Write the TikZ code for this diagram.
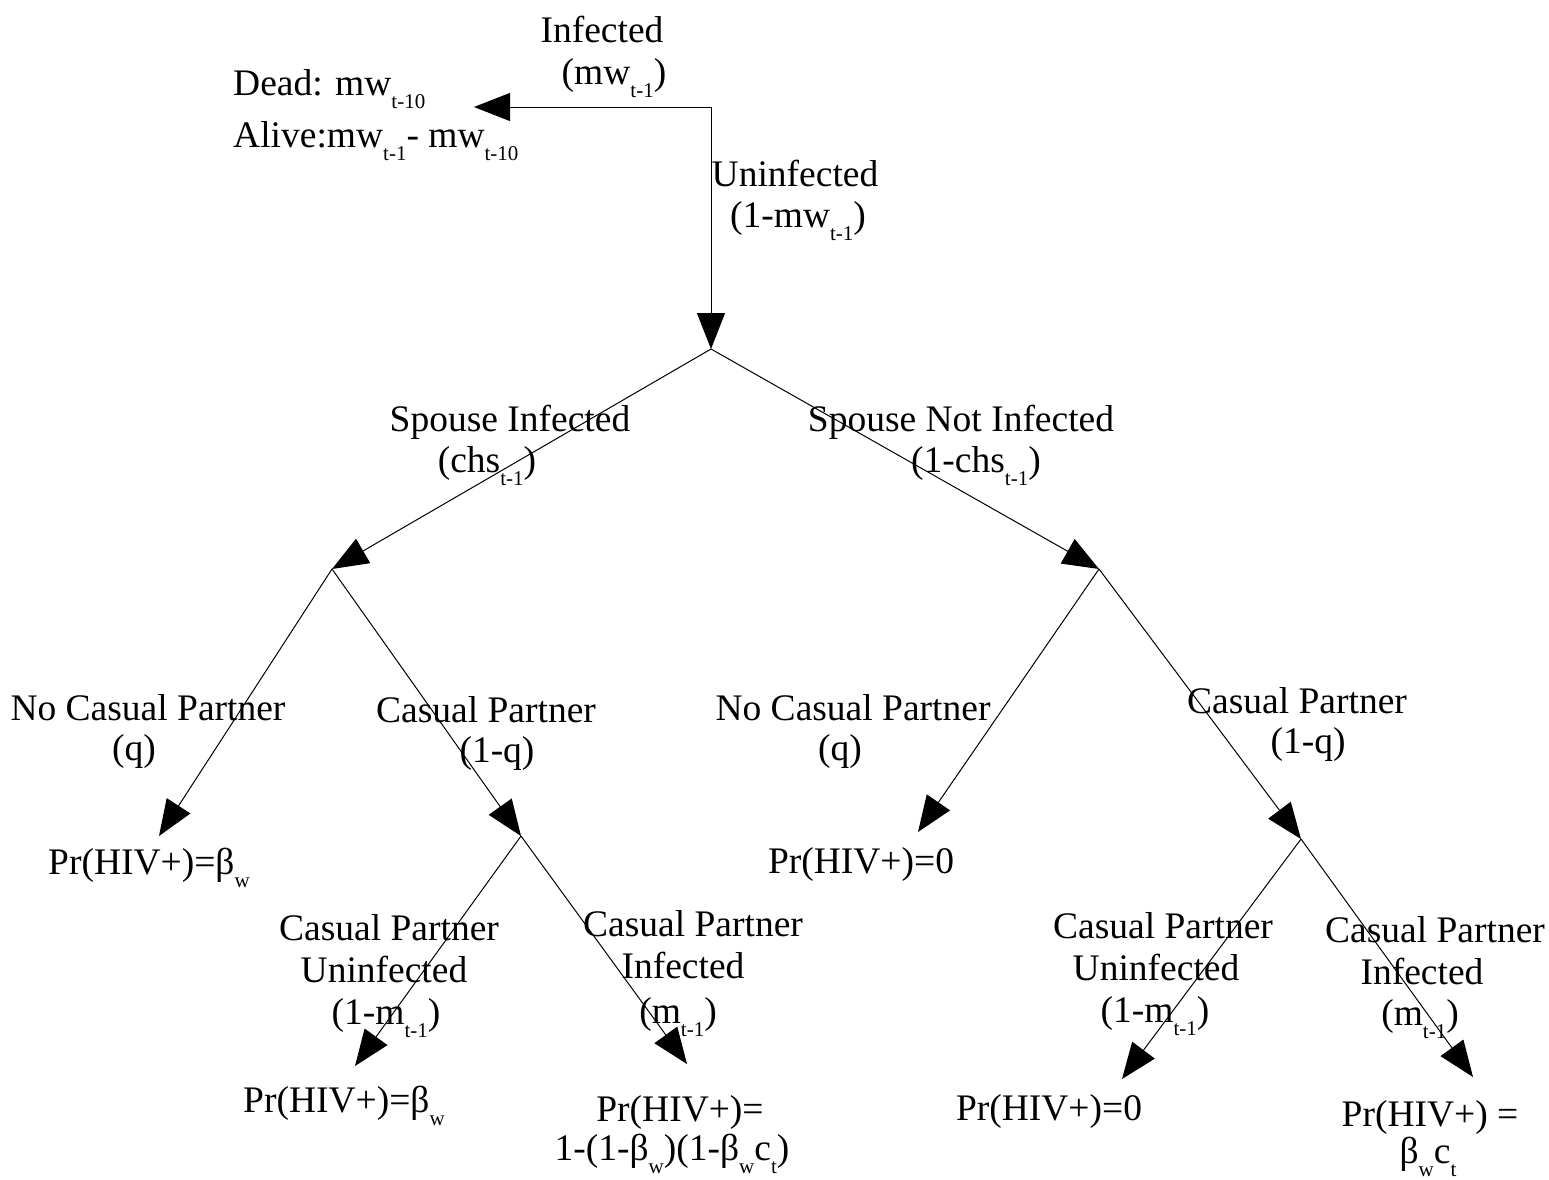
\documentclass[tikz,border=0pt]{standalone}
\usepackage{fontspec}
\setmainfont{Liberation Serif}
\usetikzlibrary{arrows.meta}
\newcommand\lo[1]{\raisebox{-13pt}{\fontsize{21}{21}\selectfont #1}}
\begin{document}
\begin{tikzpicture}[x=1pt,y=-1pt,
  lbl/.style={anchor=base, inner sep=0pt, font=\fontsize{37.5}{45}\selectfont},
  lblw/.style={lbl, anchor=base west},
  edge/.style={line width=1pt, -{Triangle[length=36pt,width=28pt]}}]
\useasboundingbox (0,0) rectangle (1549,1179);
% junctions
\coordinate (top) at (711,107);
\coordinate (j0) at (711,349);
\coordinate (jL) at (332,569);
\coordinate (jR) at (1099,569);
\coordinate (jLC) at (521,836);
\coordinate (jRC) at (1301,839);
\coordinate (eDead) at (474,107);
\coordinate (eLq) at (159,836);
\coordinate (eRq) at (918,832);
\coordinate (eLCu) at (355,1066);
\coordinate (eLCi) at (687,1064);
\coordinate (eRCu) at (1122,1079);
\coordinate (eRCi) at (1473,1077);
% connectors
\draw[edge] (top) -- (eDead);
\draw[edge] (top) -- (j0);
\draw[edge] (j0) -- (jL);
\draw[edge] (j0) -- (jR);
\draw[edge] (jL) -- (eLq);
\draw[edge] (jL) -- (jLC);
\draw[edge] (jR) -- (eRq);
\draw[edge] (jR) -- (jRC);
\draw[edge] (jLC) -- (eLCu);
\draw[edge] (jLC) -- (eLCi);
\draw[edge] (jRC) -- (eRCu);
\draw[edge] (jRC) -- (eRCi);
% top labels
\node[lbl] (inf1) at (602,42) {Infected};
\node[lbl] (inf2) at (614,84) {(mw\lo{t-1})};
\node[lblw] (dead) at (233,95) {Dead: mw\lo{t-10}};
\node[lblw] (alive) at (233,147) {Alive:mw\lo{t-1}- mw\lo{t-10}};
\node[lbl] (uninf1) at (795,186) {Uninfected};
\node[lbl] (uninf2) at (798,227) {(1-mw\lo{t-1})};
% spouse labels
\node[lbl] (si1) at (510,431) {Spouse Infected};
\node[lbl] (si2) at (487,472) {(chs\lo{t-1})};
\node[lbl] (sn1) at (961,431) {Spouse Not Infected};
\node[lbl] (sn2) at (976,472) {(1-chs\lo{t-1})};
% level 2 left
\node[lbl] (lnc1) at (148,720) {No Casual Partner};
\node[lbl] (lnc2) at (134,760) {(q)};
\node[lbl] (lcp1) at (486,722) {Casual Partner};
\node[lbl] (lcp2) at (497,762) {(1-q)};
\node[lblw] (lres1) at (48,874) {Pr(HIV+)=β\lo{w}};
% level 2 right
\node[lbl] (rnc1) at (853,720) {No Casual Partner};
\node[lbl] (rnc2) at (840,760) {(q)};
\node[lbl] (rcp1) at (1297,713) {Casual Partner};
\node[lbl] (rcp2) at (1308,753) {(1-q)};
\node[lbl] (rres1) at (861,873) {Pr(HIV+)=0};
% bottom left
\node[lbl] (lu1) at (389,940) {Casual Partner};
\node[lbl] (lu2) at (384,982) {Uninfected};
\node[lbl] (lu3) at (386,1024) {(1-m\lo{t-1})};
\node[lbl] (li1) at (693,936) {Casual Partner};
\node[lbl] (li2) at (683,978) {Infected};
\node[lbl] (li3) at (678,1023) {(m\lo{t-1})};
\node[lblw] (lres2) at (243,1112) {Pr(HIV+)=β\lo{w}};
\node[lbl] (lres3a) at (680,1121) {Pr(HIV+)=};
\node[lbl] (lres3b) at (672,1160) {1-(1-β\lo{w})(1-β\lo{w}c\lo{t})};
% bottom right
\node[lbl] (ru1) at (1163,938) {Casual Partner};
\node[lbl] (ru2) at (1156,980) {Uninfected};
\node[lbl] (ru3) at (1155,1022) {(1-m\lo{t-1})};
\node[lbl] (ri1) at (1435,942) {Casual Partner};
\node[lbl] (ri2) at (1422,984) {Infected};
\node[lbl] (ri3) at (1420,1025) {(m\lo{t-1})};
\node[lbl] (rres2) at (1049,1120) {Pr(HIV+)=0};
\node[lbl] (rres3a) at (1430,1126) {Pr(HIV+) =};
\node[lbl] (rres3b) at (1428,1163) {β\lo{w}c\lo{t}};
\end{tikzpicture}
\end{document}
